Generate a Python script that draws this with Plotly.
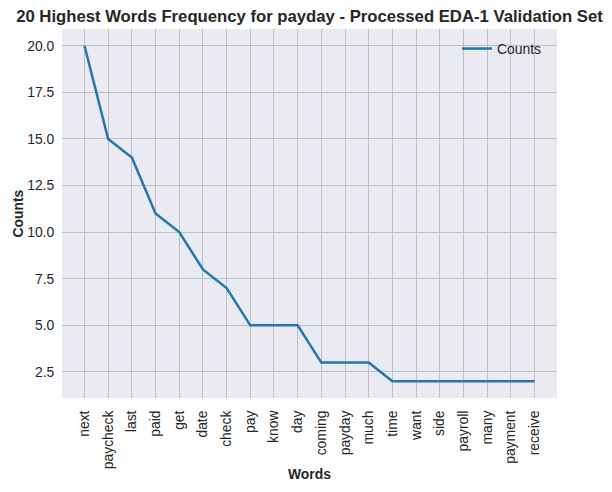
import plotly.graph_objects as go

words = ["next", "paycheck", "last", "paid", "get", "date", "check", "pay", "know", "day",
         "coming", "payday", "much", "time", "want", "side", "payroll", "many", "payment", "receive"]
counts = [20, 15, 14, 11, 10, 8, 7, 5, 5, 5, 3, 3, 3, 2, 2, 2, 2, 2, 2, 2]

y_ticks = [2.5, 5.0, 7.5, 10.0, 12.5, 15.0, 17.5, 20.0]

# the page adds an 8px body margin, so the figure is drawn 8px smaller
W, H = 604, 484
L, R, T, B = 54, 55, 21, 94
plot_w = W - L - R
plot_h = H - T - B

fig = go.Figure()
fig.add_trace(go.Scatter(x=list(range(len(words))), y=counts, mode="lines", name="Counts",
                         line=dict(color="#1f77b4", width=2.5), showlegend=True))

fig.update_layout(
    width=W, height=H,
    margin=dict(l=L, r=R, t=T, b=B, autoexpand=False),
    paper_bgcolor="white", plot_bgcolor="#EAEAF2",
    font=dict(family="Liberation Sans, Arial, sans-serif", size=13.9, color="#262626"),
    title=dict(text="<b>20 Highest Words Frequency for payday - Processed EDA-1 Validation Set</b>",
               x=0.5, xref="paper", xanchor="center", y=1 - 8 / H, yref="container", yanchor="middle",
               font=dict(size=16.7, color="#262626")),
    legend=dict(x=(449 - L) / plot_w, y=1 - 4 / plot_h, xanchor="left", yanchor="top",
                bgcolor="rgba(0,0,0,0)", font=dict(size=13.9)),
    annotations=[
        dict(text="<b>Words</b>", x=0.5, xref="paper", y=-(466 - (H - B)) / plot_h, yref="paper",
             yanchor="middle", showarrow=False, font=dict(size=13.9)),
        dict(text="<b>Counts</b>", x=-(L - 9) / plot_w, xref="paper", y=0.5, yref="paper",
             xanchor="center", textangle=-90, showarrow=False, font=dict(size=13.9)),
    ],
)
fig.update_xaxes(
    range=[-0.95, 19.95], tickmode="array", tickvals=list(range(len(words))), ticktext=words,
    tickangle=-90, showgrid=True, gridcolor="#c0c0c0", gridwidth=1, zeroline=False,
    showline=False, ticks="outside", ticklen=6, tickcolor="rgba(0,0,0,0)", automargin=False,
)
fig.update_yaxes(
    range=[1.1, 20.9], tickmode="array", tickvals=y_ticks, ticktext=[f"{v:.1f}" for v in y_ticks],
    showgrid=True, gridcolor="#c0c0c0", gridwidth=1, zeroline=False, showline=False,
    ticks="outside", ticklen=4, tickcolor="rgba(0,0,0,0)", automargin=False,
)

fig.write_html("out.html")
